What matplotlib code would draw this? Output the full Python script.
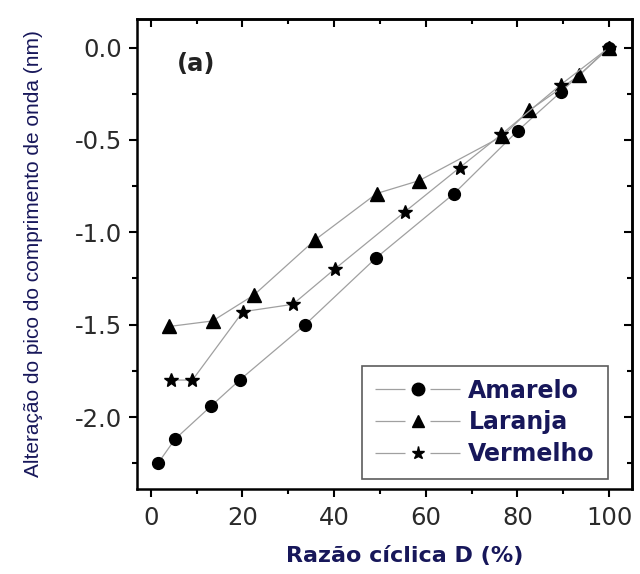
import matplotlib.pyplot as plt
from matplotlib.ticker import MultipleLocator

plt.rcParams['font.family'] = ['DejaVu Sans']
plt.rcParams['lines.scale_dashes'] = False

# Daten
amarelo_x = [1.6, 5.3, 13.2, 19.4, 33.7, 49.1, 66.2, 80.1, 89.5, 100]
amarelo_y = [-2.25, -2.12, -1.94, -1.80, -1.50, -1.14, -0.79, -0.45, -0.24, 0.0]

laranja_x = [4.0, 13.5, 22.5, 35.9, 49.3, 58.6, 76.7, 82.6, 93.5, 100]
laranja_y = [-1.51, -1.48, -1.34, -1.04, -0.79, -0.72, -0.48, -0.34, -0.15, 0.0]

vermelho_x = [4.5, 9.1, 20.1, 31.0, 40.1, 55.4, 67.4, 76.5, 89.5, 100]
vermelho_y = [-1.80, -1.80, -1.43, -1.39, -1.20, -0.89, -0.65, -0.47, -0.20, 0.0]

texto_cor = '#17175a'
linha_cor = '#a0a0a0'

fig = plt.figure(figsize=(6.4, 5.74), dpi=100)
ax = fig.add_axes([0.214, 0.148, 0.7735, 0.819])

ax.plot(amarelo_x, amarelo_y, '-', color=linha_cor, lw=0.9, marker='o', ms=8.5,
        mfc='black', mec='black', label='Amarelo')
ax.plot(laranja_x, laranja_y, '-', color=linha_cor, lw=0.9, marker='^', ms=10,
        mfc='black', mec='black', label='Laranja')
ax.plot(vermelho_x, vermelho_y, '-', color=linha_cor, lw=0.9, marker='*', ms=10.5,
        mfc='black', mec='black', label='Vermelho')

ax.set_xlim(-3, 105)
ax.set_ylim(-2.39, 0.155)

ax.xaxis.set_major_locator(MultipleLocator(20))
ax.xaxis.set_minor_locator(MultipleLocator(10))
ax.yaxis.set_major_locator(MultipleLocator(0.5))
ax.yaxis.set_minor_locator(MultipleLocator(0.25))
ax.yaxis.set_major_formatter(plt.FuncFormatter(lambda v, p: f'{v:.1f}'))

# links/unten nach außen, oben/rechts nach innen
ax.tick_params(which='both', direction='out', width=1.5, labelsize=17.5, labelcolor='#2a2a2a')
ax.tick_params(which='major', length=6)
ax.tick_params(which='minor', length=3.5)
ax.tick_params(axis='x', pad=6)
ax.tick_params(axis='y', pad=5)
ax2 = ax.secondary_xaxis('top')
ax2.xaxis.set_major_locator(MultipleLocator(20))
ax2.xaxis.set_minor_locator(MultipleLocator(10))
ax2.tick_params(which='both', direction='in', width=1.5, labeltop=False)
ax2.tick_params(which='major', length=6)
ax2.tick_params(which='minor', length=3.5)
ay2 = ax.secondary_yaxis('right')
ay2.yaxis.set_major_locator(MultipleLocator(0.5))
ay2.yaxis.set_minor_locator(MultipleLocator(0.25))
ay2.tick_params(which='both', direction='in', width=1.5, labelright=False)
ay2.tick_params(which='major', length=6)
ay2.tick_params(which='minor', length=3.5)

for spine in ax.spines.values():
    spine.set_linewidth(1.8)
ax2.spines['top'].set_linewidth(1.8)
ay2.spines['right'].set_linewidth(1.8)

ax.set_xlabel('Razão cíclica D (%)', fontsize=16, fontweight='bold', color=texto_cor)
ax.xaxis.set_label_coords(0.541, -0.122)
ax.set_ylabel('Alteração do pico do comprimento de onda (nm)', fontsize=15,
              family=['Liberation Sans'], color=texto_cor)
ax.yaxis.set_label_coords(-0.19, 0.5)

ax.text(0.081, 0.904, '(a)', transform=ax.transAxes, fontsize=17.5, fontweight='bold', color='#222222',
        va='center')

leg = ax.legend(loc='lower right', fontsize=17, frameon=True, fancybox=False, edgecolor='#333333',
                handlelength=3.6, handletextpad=0.34, borderpad=0.55, labelspacing=0.33,
                bbox_to_anchor=(0.9515, 0.021), borderaxespad=0)
leg.get_frame().set_linewidth(1.2)
for t in leg.get_texts():
    t.set_fontweight('bold')
    t.set_color(texto_cor)
# Lücke zwischen Linie und Symbol in der Legende
for h, s in zip(leg.legend_handles, [9, 9, 9.5]):
    h.set_dashes([21.6, 18, 200, 10])
    h.set_markersize(s)

plt.savefig('out.png', dpi=100)
